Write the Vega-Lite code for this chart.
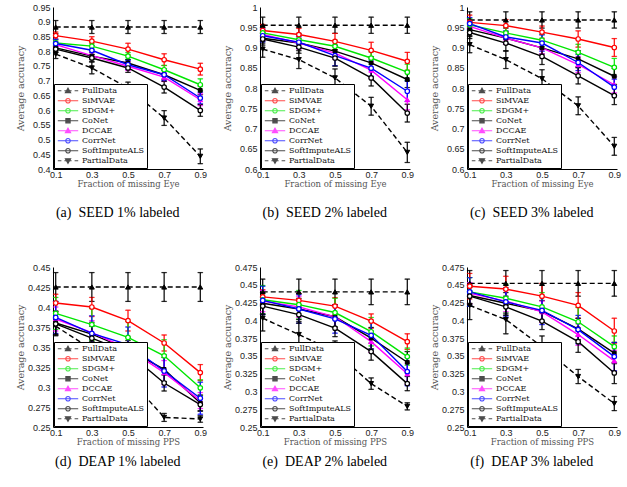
{
"$schema":"https://vega.github.io/schema/vega-lite/v6.json",
"padding":{"left":15,"top":3,"right":2,"bottom":2},
"datasets":{"d":[
{"p":"a","m":"FullData","x":0.1,"y":0.882,"e":0.022},{"p":"a","m":"FullData","x":0.3,"y":0.882,"e":0.022},{"p":"a","m":"FullData","x":0.5,"y":0.882,"e":0.022},{"p":"a","m":"FullData","x":0.7,"y":0.882,"e":0.022},{"p":"a","m":"FullData","x":0.9,"y":0.882,"e":0.022},
{"p":"a","m":"SiMVAE","x":0.1,"y":0.853,"e":0.012},{"p":"a","m":"SiMVAE","x":0.3,"y":0.834,"e":0.015},{"p":"a","m":"SiMVAE","x":0.5,"y":0.807,"e":0.02},{"p":"a","m":"SiMVAE","x":0.7,"y":0.771,"e":0.02},{"p":"a","m":"SiMVAE","x":0.9,"y":0.739,"e":0.02},
{"p":"a","m":"SDGM+","x":0.1,"y":0.828,"e":0.01},{"p":"a","m":"SDGM+","x":0.3,"y":0.817,"e":0.01},{"p":"a","m":"SDGM+","x":0.5,"y":0.783,"e":0.012},{"p":"a","m":"SDGM+","x":0.7,"y":0.737,"e":0.015},{"p":"a","m":"SDGM+","x":0.9,"y":0.686,"e":0.02},
{"p":"a","m":"CoNet","x":0.1,"y":0.811,"e":0.01},{"p":"a","m":"CoNet","x":0.3,"y":0.783,"e":0.012},{"p":"a","m":"CoNet","x":0.5,"y":0.76,"e":0.012},{"p":"a","m":"CoNet","x":0.7,"y":0.72,"e":0.015},{"p":"a","m":"CoNet","x":0.9,"y":0.667,"e":0.015},
{"p":"a","m":"DCCAE","x":0.1,"y":0.822,"e":0.012},{"p":"a","m":"DCCAE","x":0.3,"y":0.785,"e":0.012},{"p":"a","m":"DCCAE","x":0.5,"y":0.749,"e":0.015},{"p":"a","m":"DCCAE","x":0.7,"y":0.712,"e":0.015},{"p":"a","m":"DCCAE","x":0.9,"y":0.635,"e":0.02},
{"p":"a","m":"CorrNet","x":0.1,"y":0.826,"e":0.015},{"p":"a","m":"CorrNet","x":0.3,"y":0.803,"e":0.015},{"p":"a","m":"CorrNet","x":0.5,"y":0.754,"e":0.015},{"p":"a","m":"CorrNet","x":0.7,"y":0.72,"e":0.02},{"p":"a","m":"CorrNet","x":0.9,"y":0.641,"e":0.02},
{"p":"a","m":"SoftImputeALS","x":0.1,"y":0.807,"e":0.01},{"p":"a","m":"SoftImputeALS","x":0.3,"y":0.777,"e":0.012},{"p":"a","m":"SoftImputeALS","x":0.5,"y":0.743,"e":0.015},{"p":"a","m":"SoftImputeALS","x":0.7,"y":0.678,"e":0.02},{"p":"a","m":"SoftImputeALS","x":0.9,"y":0.599,"e":0.02},
{"p":"a","m":"PartialData","x":0.1,"y":0.79,"e":0.015},{"p":"a","m":"PartialData","x":0.3,"y":0.743,"e":0.02},{"p":"a","m":"PartialData","x":0.5,"y":0.675,"e":0.02},{"p":"a","m":"PartialData","x":0.7,"y":0.573,"e":0.025},{"p":"a","m":"PartialData","x":0.9,"y":0.443,"e":0.025},
{"p":"b","m":"FullData","x":0.1,"y":0.955,"e":0.02},{"p":"b","m":"FullData","x":0.3,"y":0.955,"e":0.02},{"p":"b","m":"FullData","x":0.5,"y":0.955,"e":0.02},{"p":"b","m":"FullData","x":0.7,"y":0.955,"e":0.02},{"p":"b","m":"FullData","x":0.9,"y":0.955,"e":0.02},
{"p":"b","m":"SiMVAE","x":0.1,"y":0.942,"e":0.015},{"p":"b","m":"SiMVAE","x":0.3,"y":0.932,"e":0.015},{"p":"b","m":"SiMVAE","x":0.5,"y":0.915,"e":0.02},{"p":"b","m":"SiMVAE","x":0.7,"y":0.893,"e":0.02},{"p":"b","m":"SiMVAE","x":0.9,"y":0.866,"e":0.022},
{"p":"b","m":"SDGM+","x":0.1,"y":0.936,"e":0.012},{"p":"b","m":"SDGM+","x":0.3,"y":0.919,"e":0.012},{"p":"b","m":"SDGM+","x":0.5,"y":0.903,"e":0.015},{"p":"b","m":"SDGM+","x":0.7,"y":0.874,"e":0.015},{"p":"b","m":"SDGM+","x":0.9,"y":0.839,"e":0.02},
{"p":"b","m":"CoNet","x":0.1,"y":0.923,"e":0.012},{"p":"b","m":"CoNet","x":0.3,"y":0.911,"e":0.012},{"p":"b","m":"CoNet","x":0.5,"y":0.891,"e":0.015},{"p":"b","m":"CoNet","x":0.7,"y":0.862,"e":0.015},{"p":"b","m":"CoNet","x":0.9,"y":0.821,"e":0.02},
{"p":"b","m":"DCCAE","x":0.1,"y":0.932,"e":0.015},{"p":"b","m":"DCCAE","x":0.3,"y":0.911,"e":0.015},{"p":"b","m":"DCCAE","x":0.5,"y":0.886,"e":0.015},{"p":"b","m":"DCCAE","x":0.7,"y":0.844,"e":0.02},{"p":"b","m":"DCCAE","x":0.9,"y":0.771,"e":0.025},
{"p":"b","m":"CorrNet","x":0.1,"y":0.929,"e":0.015},{"p":"b","m":"CorrNet","x":0.3,"y":0.913,"e":0.015},{"p":"b","m":"CorrNet","x":0.5,"y":0.88,"e":0.025},{"p":"b","m":"CorrNet","x":0.7,"y":0.849,"e":0.02},{"p":"b","m":"CorrNet","x":0.9,"y":0.792,"e":0.025},
{"p":"b","m":"SoftImputeALS","x":0.1,"y":0.921,"e":0.015},{"p":"b","m":"SoftImputeALS","x":0.3,"y":0.901,"e":0.015},{"p":"b","m":"SoftImputeALS","x":0.5,"y":0.874,"e":0.02},{"p":"b","m":"SoftImputeALS","x":0.7,"y":0.825,"e":0.02},{"p":"b","m":"SoftImputeALS","x":0.9,"y":0.738,"e":0.022},
{"p":"b","m":"PartialData","x":0.1,"y":0.896,"e":0.02},{"p":"b","m":"PartialData","x":0.3,"y":0.87,"e":0.022},{"p":"b","m":"PartialData","x":0.5,"y":0.825,"e":0.022},{"p":"b","m":"PartialData","x":0.7,"y":0.755,"e":0.022},{"p":"b","m":"PartialData","x":0.9,"y":0.641,"e":0.025},
{"p":"c","m":"FullData","x":0.1,"y":0.968,"e":0.02},{"p":"c","m":"FullData","x":0.3,"y":0.968,"e":0.02},{"p":"c","m":"FullData","x":0.5,"y":0.968,"e":0.02},{"p":"c","m":"FullData","x":0.7,"y":0.968,"e":0.02},{"p":"c","m":"FullData","x":0.9,"y":0.968,"e":0.02},
{"p":"c","m":"SiMVAE","x":0.1,"y":0.962,"e":0.018},{"p":"c","m":"SiMVAE","x":0.3,"y":0.954,"e":0.015},{"p":"c","m":"SiMVAE","x":0.5,"y":0.938,"e":0.015},{"p":"c","m":"SiMVAE","x":0.7,"y":0.921,"e":0.02},{"p":"c","m":"SiMVAE","x":0.9,"y":0.9,"e":0.022},
{"p":"c","m":"SDGM+","x":0.1,"y":0.956,"e":0.015},{"p":"c","m":"SDGM+","x":0.3,"y":0.936,"e":0.015},{"p":"c","m":"SDGM+","x":0.5,"y":0.918,"e":0.015},{"p":"c","m":"SDGM+","x":0.7,"y":0.888,"e":0.02},{"p":"c","m":"SDGM+","x":0.9,"y":0.851,"e":0.022},
{"p":"c","m":"CoNet","x":0.1,"y":0.944,"e":0.015},{"p":"c","m":"CoNet","x":0.3,"y":0.923,"e":0.015},{"p":"c","m":"CoNet","x":0.5,"y":0.899,"e":0.015},{"p":"c","m":"CoNet","x":0.7,"y":0.872,"e":0.02},{"p":"c","m":"CoNet","x":0.9,"y":0.829,"e":0.02},
{"p":"c","m":"DCCAE","x":0.1,"y":0.952,"e":0.015},{"p":"c","m":"DCCAE","x":0.3,"y":0.923,"e":0.015},{"p":"c","m":"DCCAE","x":0.5,"y":0.899,"e":0.015},{"p":"c","m":"DCCAE","x":0.7,"y":0.858,"e":0.02},{"p":"c","m":"DCCAE","x":0.9,"y":0.808,"e":0.02},
{"p":"c","m":"CorrNet","x":0.1,"y":0.959,"e":0.015},{"p":"c","m":"CorrNet","x":0.3,"y":0.926,"e":0.015},{"p":"c","m":"CorrNet","x":0.5,"y":0.911,"e":0.02},{"p":"c","m":"CorrNet","x":0.7,"y":0.863,"e":0.02},{"p":"c","m":"CorrNet","x":0.9,"y":0.802,"e":0.02},
{"p":"c","m":"SoftImputeALS","x":0.1,"y":0.937,"e":0.015},{"p":"c","m":"SoftImputeALS","x":0.3,"y":0.911,"e":0.02},{"p":"c","m":"SoftImputeALS","x":0.5,"y":0.878,"e":0.02},{"p":"c","m":"SoftImputeALS","x":0.7,"y":0.83,"e":0.02},{"p":"c","m":"SoftImputeALS","x":0.9,"y":0.781,"e":0.022},
{"p":"c","m":"PartialData","x":0.1,"y":0.907,"e":0.02},{"p":"c","m":"PartialData","x":0.3,"y":0.87,"e":0.022},{"p":"c","m":"PartialData","x":0.5,"y":0.823,"e":0.022},{"p":"c","m":"PartialData","x":0.7,"y":0.756,"e":0.022},{"p":"c","m":"PartialData","x":0.9,"y":0.656,"e":0.022},
{"p":"d","m":"FullData","x":0.1,"y":0.425,"e":0.018},{"p":"d","m":"FullData","x":0.3,"y":0.425,"e":0.018},{"p":"d","m":"FullData","x":0.5,"y":0.425,"e":0.018},{"p":"d","m":"FullData","x":0.7,"y":0.425,"e":0.018},{"p":"d","m":"FullData","x":0.9,"y":0.425,"e":0.018},
{"p":"d","m":"SiMVAE","x":0.1,"y":0.405,"e":0.011},{"p":"d","m":"SiMVAE","x":0.3,"y":0.4,"e":0.012},{"p":"d","m":"SiMVAE","x":0.5,"y":0.383,"e":0.013},{"p":"d","m":"SiMVAE","x":0.7,"y":0.355,"e":0.01},{"p":"d","m":"SiMVAE","x":0.9,"y":0.318,"e":0.01},
{"p":"d","m":"SDGM+","x":0.1,"y":0.392,"e":0.02},{"p":"d","m":"SDGM+","x":0.3,"y":0.378,"e":0.02},{"p":"d","m":"SDGM+","x":0.5,"y":0.362,"e":0.02},{"p":"d","m":"SDGM+","x":0.7,"y":0.339,"e":0.02},{"p":"d","m":"SDGM+","x":0.9,"y":0.299,"e":0.01},
{"p":"d","m":"CoNet","x":0.1,"y":0.38,"e":0.015},{"p":"d","m":"CoNet","x":0.3,"y":0.366,"e":0.015},{"p":"d","m":"CoNet","x":0.5,"y":0.347,"e":0.015},{"p":"d","m":"CoNet","x":0.7,"y":0.322,"e":0.015},{"p":"d","m":"CoNet","x":0.9,"y":0.28,"e":0.01},
{"p":"d","m":"DCCAE","x":0.1,"y":0.385,"e":0.015},{"p":"d","m":"DCCAE","x":0.3,"y":0.368,"e":0.015},{"p":"d","m":"DCCAE","x":0.5,"y":0.348,"e":0.015},{"p":"d","m":"DCCAE","x":0.7,"y":0.318,"e":0.015},{"p":"d","m":"DCCAE","x":0.9,"y":0.283,"e":0.01},
{"p":"d","m":"CorrNet","x":0.1,"y":0.387,"e":0.02},{"p":"d","m":"CorrNet","x":0.3,"y":0.367,"e":0.022},{"p":"d","m":"CorrNet","x":0.5,"y":0.353,"e":0.022},{"p":"d","m":"CorrNet","x":0.7,"y":0.32,"e":0.02},{"p":"d","m":"CorrNet","x":0.9,"y":0.286,"e":0.02},
{"p":"d","m":"SoftImputeALS","x":0.1,"y":0.379,"e":0.015},{"p":"d","m":"SoftImputeALS","x":0.3,"y":0.361,"e":0.015},{"p":"d","m":"SoftImputeALS","x":0.5,"y":0.343,"e":0.015},{"p":"d","m":"SoftImputeALS","x":0.7,"y":0.305,"e":0.01},{"p":"d","m":"SoftImputeALS","x":0.9,"y":0.278,"e":0.008},
{"p":"d","m":"PartialData","x":0.1,"y":0.376,"e":0.01},{"p":"d","m":"PartialData","x":0.3,"y":0.347,"e":0.01},{"p":"d","m":"PartialData","x":0.5,"y":0.312,"e":0.01},{"p":"d","m":"PartialData","x":0.7,"y":0.262,"e":0.005},{"p":"d","m":"PartialData","x":0.9,"y":0.26,"e":0.004},
{"p":"e","m":"FullData","x":0.1,"y":0.44,"e":0.018},{"p":"e","m":"FullData","x":0.3,"y":0.44,"e":0.018},{"p":"e","m":"FullData","x":0.5,"y":0.44,"e":0.018},{"p":"e","m":"FullData","x":0.7,"y":0.44,"e":0.018},{"p":"e","m":"FullData","x":0.9,"y":0.44,"e":0.018},
{"p":"e","m":"SiMVAE","x":0.1,"y":0.433,"e":0.01},{"p":"e","m":"SiMVAE","x":0.3,"y":0.428,"e":0.01},{"p":"e","m":"SiMVAE","x":0.5,"y":0.42,"e":0.012},{"p":"e","m":"SiMVAE","x":0.7,"y":0.399,"e":0.01},{"p":"e","m":"SiMVAE","x":0.9,"y":0.37,"e":0.011},
{"p":"e","m":"SDGM+","x":0.1,"y":0.429,"e":0.02},{"p":"e","m":"SDGM+","x":0.3,"y":0.422,"e":0.02},{"p":"e","m":"SDGM+","x":0.5,"y":0.411,"e":0.02},{"p":"e","m":"SDGM+","x":0.7,"y":0.384,"e":0.02},{"p":"e","m":"SDGM+","x":0.9,"y":0.349,"e":0.012},
{"p":"e","m":"CoNet","x":0.1,"y":0.424,"e":0.015},{"p":"e","m":"CoNet","x":0.3,"y":0.416,"e":0.015},{"p":"e","m":"CoNet","x":0.5,"y":0.405,"e":0.015},{"p":"e","m":"CoNet","x":0.7,"y":0.375,"e":0.015},{"p":"e","m":"CoNet","x":0.9,"y":0.341,"e":0.015},
{"p":"e","m":"DCCAE","x":0.1,"y":0.427,"e":0.015},{"p":"e","m":"DCCAE","x":0.3,"y":0.419,"e":0.015},{"p":"e","m":"DCCAE","x":0.5,"y":0.405,"e":0.015},{"p":"e","m":"DCCAE","x":0.7,"y":0.37,"e":0.015},{"p":"e","m":"DCCAE","x":0.9,"y":0.325,"e":0.015},
{"p":"e","m":"CorrNet","x":0.1,"y":0.428,"e":0.02},{"p":"e","m":"CorrNet","x":0.3,"y":0.416,"e":0.02},{"p":"e","m":"CorrNet","x":0.5,"y":0.402,"e":0.02},{"p":"e","m":"CorrNet","x":0.7,"y":0.379,"e":0.02},{"p":"e","m":"CorrNet","x":0.9,"y":0.328,"e":0.02},
{"p":"e","m":"SoftImputeALS","x":0.1,"y":0.42,"e":0.012},{"p":"e","m":"SoftImputeALS","x":0.3,"y":0.408,"e":0.012},{"p":"e","m":"SoftImputeALS","x":0.5,"y":0.389,"e":0.012},{"p":"e","m":"SoftImputeALS","x":0.7,"y":0.356,"e":0.012},{"p":"e","m":"SoftImputeALS","x":0.9,"y":0.311,"e":0.01},
{"p":"e","m":"PartialData","x":0.1,"y":0.403,"e":0.018},{"p":"e","m":"PartialData","x":0.3,"y":0.38,"e":0.018},{"p":"e","m":"PartialData","x":0.5,"y":0.356,"e":0.015},{"p":"e","m":"PartialData","x":0.7,"y":0.311,"e":0.008},{"p":"e","m":"PartialData","x":0.9,"y":0.279,"e":0.005},
{"p":"f","m":"FullData","x":0.1,"y":0.452,"e":0.018},{"p":"f","m":"FullData","x":0.3,"y":0.452,"e":0.018},{"p":"f","m":"FullData","x":0.5,"y":0.452,"e":0.018},{"p":"f","m":"FullData","x":0.7,"y":0.452,"e":0.018},{"p":"f","m":"FullData","x":0.9,"y":0.452,"e":0.018},
{"p":"f","m":"SiMVAE","x":0.1,"y":0.448,"e":0.018},{"p":"f","m":"SiMVAE","x":0.3,"y":0.444,"e":0.018},{"p":"f","m":"SiMVAE","x":0.5,"y":0.434,"e":0.018},{"p":"f","m":"SiMVAE","x":0.7,"y":0.421,"e":0.018},{"p":"f","m":"SiMVAE","x":0.9,"y":0.385,"e":0.018},
{"p":"f","m":"SDGM+","x":0.1,"y":0.44,"e":0.02},{"p":"f","m":"SDGM+","x":0.3,"y":0.431,"e":0.02},{"p":"f","m":"SDGM+","x":0.5,"y":0.419,"e":0.02},{"p":"f","m":"SDGM+","x":0.7,"y":0.398,"e":0.02},{"p":"f","m":"SDGM+","x":0.9,"y":0.363,"e":0.015},
{"p":"f","m":"CoNet","x":0.1,"y":0.435,"e":0.015},{"p":"f","m":"CoNet","x":0.3,"y":0.424,"e":0.015},{"p":"f","m":"CoNet","x":0.5,"y":0.413,"e":0.015},{"p":"f","m":"CoNet","x":0.7,"y":0.388,"e":0.015},{"p":"f","m":"CoNet","x":0.9,"y":0.354,"e":0.015},
{"p":"f","m":"DCCAE","x":0.1,"y":0.438,"e":0.015},{"p":"f","m":"DCCAE","x":0.3,"y":0.427,"e":0.015},{"p":"f","m":"DCCAE","x":0.5,"y":0.412,"e":0.015},{"p":"f","m":"DCCAE","x":0.7,"y":0.38,"e":0.015},{"p":"f","m":"DCCAE","x":0.9,"y":0.343,"e":0.015},
{"p":"f","m":"CorrNet","x":0.1,"y":0.44,"e":0.02},{"p":"f","m":"CorrNet","x":0.3,"y":0.426,"e":0.02},{"p":"f","m":"CorrNet","x":0.5,"y":0.414,"e":0.02},{"p":"f","m":"CorrNet","x":0.7,"y":0.387,"e":0.02},{"p":"f","m":"CorrNet","x":0.9,"y":0.349,"e":0.02},
{"p":"f","m":"SoftImputeALS","x":0.1,"y":0.434,"e":0.012},{"p":"f","m":"SoftImputeALS","x":0.3,"y":0.419,"e":0.012},{"p":"f","m":"SoftImputeALS","x":0.5,"y":0.399,"e":0.012},{"p":"f","m":"SoftImputeALS","x":0.7,"y":0.37,"e":0.015},{"p":"f","m":"SoftImputeALS","x":0.9,"y":0.326,"e":0.015},
{"p":"f","m":"PartialData","x":0.1,"y":0.421,"e":0.02},{"p":"f","m":"PartialData","x":0.3,"y":0.401,"e":0.02},{"p":"f","m":"PartialData","x":0.5,"y":0.363,"e":0.015},{"p":"f","m":"PartialData","x":0.7,"y":0.321,"e":0.01},{"p":"f","m":"PartialData","x":0.9,"y":0.283,"e":0.01}
]},
"data":{"name":"d"},
"config":{
 "view":{"stroke":null},
 "axis":{"grid":false,"ticks":false,"labelPadding":1.5,"labelFont":"Liberation Sans","labelFontSize":9,"labelColor":"#222","titleFont":"DejaVu Serif","titleFontWeight":"normal","titleColor":"#555","titleFontSize":8.5,"domainColor":"#000","domainWidth":1,"labelFlush":false,"labelOverlap":false},
 "axisY":{"minExtent":24,"maxExtent":24,"titlePadding":4,"titleFontSize":9.5,"labelPadding":3},
 "axisX":{"titlePadding":0},
 "legend":{"labelFont":"DejaVu Serif","labelFontSize":8,"labelColor":"#111","symbolSize":36,"symbolStrokeWidth":1.2,"rowPadding":1,"padding":2.5,"strokeColor":"#000","fillColor":"#fff","symbolOffset":7.5,"labelOffset":10,"offset":1,"cornerRadius":0,"clipHeight":8.5},
 "title":{"font":"Liberation Serif","fontSize":14,"fontWeight":"normal","orient":"bottom","anchor":"middle","frame":"bounds","color":"#000","dx":7}
},
"resolve":{"scale":{"color":"independent"},"legend":{"color":"independent"}},
"spacing":43,
"vconcat":[
{"hconcat":[
{"width":150,"height":162,"title":{"text":"(a)\u2002SEED 1% labeled","offset":17.5},"transform":[{"filter":"datum.p=='a'"}],
 "encoding":{
  "x":{"field":"x","type":"quantitative","scale":{"domain":[0.085,0.915],"nice":false,"zero":false},"axis":{"values":[0.1,0.3,0.5,0.7,0.9],"title":"Fraction of missing Eye"}},
  "y":{"field":"y","type":"quantitative","scale":{"domain":[0.4,0.95],"nice":false,"zero":false},"axis":{"tickCount":11,"labelOverlap":false,"format":".3~f","title":"Average accuracy"}},
  "color":{"field":"m","type":"nominal","scale":{"domain":["FullData","SiMVAE","SDGM+","CoNet","DCCAE","CorrNet","SoftImputeALS","PartialData"],"range":["#000000","#ff0000","#00e600","#000000","#ff00ff","#0000ff","#000000","#000000"]},"legend":{"title":null,"orient":"bottom-left","encoding":{"symbols":{"shape":{"value":{"expr":"datum.value=='FullData'?'M-3.4,0H-2.2M-1.2,0H1.2M2.2,0H3.4M0,-0.85L0.85,0.65H-0.85Z':datum.value=='PartialData'?'M-3.4,0H-2.2M-1.2,0H1.2M2.2,0H3.4M0,0.85L0.85,-0.65H-0.85Z':datum.value=='DCCAE'?'M-3.4,0H3.4M0,-0.85L0.85,0.65H-0.85Z':datum.value=='CoNet'?'M-3.4,0H3.4M-0.7,-0.7H0.7V0.7H-0.7Z':'M-3.4,0H3.4M0.75,0A0.75,0.75,0,1,1,-0.75,0A0.75,0.75,0,1,1,0.75,0Z'"}},"fill":{"value":{"expr":"indexof(['FullData','PartialData','CoNet'],datum.value)>=0?'#000':datum.value=='DCCAE'?'#ff00ff':'#fff'"}}}}}}
 },
 "layer":[
  {"mark":{"type":"errorbar","ticks":{"size":5,"filled":false,"thickness":0.3,"strokeWidth":1},"thickness":1.2},"encoding":{"yError":{"field":"e"}}},
  {"transform":[{"filter":"datum.m=='FullData'||datum.m=='PartialData'"}],"mark":{"type":"line","strokeWidth":1.4,"strokeDash":[5,3]}},
  {"transform":[{"filter":"datum.m!='FullData'&&datum.m!='PartialData'"}],"mark":{"type":"line","strokeWidth":1.4}},
  {"transform":[{"filter":"datum.m=='FullData'"}],"mark":{"type":"point","shape":"triangle-up","filled":false,"fill":"#000","size":24,"strokeWidth":1,"opacity":1}},
  {"transform":[{"filter":"datum.m=='PartialData'"}],"mark":{"type":"point","shape":"triangle-down","filled":false,"fill":"#000","size":24,"strokeWidth":1,"opacity":1}},
  {"transform":[{"filter":"datum.m=='DCCAE'"}],"mark":{"type":"point","shape":"triangle-up","filled":false,"fill":"#ff00ff","size":22,"strokeWidth":1,"opacity":1}},
  {"transform":[{"filter":"datum.m=='CoNet'"}],"mark":{"type":"point","shape":"square","filled":false,"fill":"#000","size":14,"strokeWidth":1,"opacity":1}},
  {"transform":[{"filter":"indexof(['SiMVAE','SDGM+','CorrNet','SoftImputeALS'],datum.m)>=0"}],"mark":{"type":"point","shape":"circle","filled":false,"fill":"#fff","size":20,"strokeWidth":1.2,"opacity":1}}
 ]},
{"width":150,"height":162,"title":{"text":"(b)\u2002SEED 2% labeled","offset":17.5},"transform":[{"filter":"datum.p=='b'"}],
 "encoding":{
  "x":{"field":"x","type":"quantitative","scale":{"domain":[0.085,0.915],"nice":false,"zero":false},"axis":{"values":[0.1,0.3,0.5,0.7,0.9],"title":"Fraction of missing Eye"}},
  "y":{"field":"y","type":"quantitative","scale":{"domain":[0.6,1],"nice":false,"zero":false},"axis":{"values":[0.6,0.65,0.7,0.75,0.8,0.85,0.9,0.95,1],"format":".3~f","title":"Average accuracy"}},
  "color":{"field":"m","type":"nominal","scale":{"domain":["FullData","SiMVAE","SDGM+","CoNet","DCCAE","CorrNet","SoftImputeALS","PartialData"],"range":["#000000","#ff0000","#00e600","#000000","#ff00ff","#0000ff","#000000","#000000"]},"legend":{"title":null,"orient":"bottom-left","encoding":{"symbols":{"shape":{"value":{"expr":"datum.value=='FullData'?'M-3.4,0H-2.2M-1.2,0H1.2M2.2,0H3.4M0,-0.85L0.85,0.65H-0.85Z':datum.value=='PartialData'?'M-3.4,0H-2.2M-1.2,0H1.2M2.2,0H3.4M0,0.85L0.85,-0.65H-0.85Z':datum.value=='DCCAE'?'M-3.4,0H3.4M0,-0.85L0.85,0.65H-0.85Z':datum.value=='CoNet'?'M-3.4,0H3.4M-0.7,-0.7H0.7V0.7H-0.7Z':'M-3.4,0H3.4M0.75,0A0.75,0.75,0,1,1,-0.75,0A0.75,0.75,0,1,1,0.75,0Z'"}},"fill":{"value":{"expr":"indexof(['FullData','PartialData','CoNet'],datum.value)>=0?'#000':datum.value=='DCCAE'?'#ff00ff':'#fff'"}}}}}}
 },
 "layer":[
  {"mark":{"type":"errorbar","ticks":{"size":5,"filled":false,"thickness":0.3,"strokeWidth":1},"thickness":1.2},"encoding":{"yError":{"field":"e"}}},
  {"transform":[{"filter":"datum.m=='FullData'||datum.m=='PartialData'"}],"mark":{"type":"line","strokeWidth":1.4,"strokeDash":[5,3]}},
  {"transform":[{"filter":"datum.m!='FullData'&&datum.m!='PartialData'"}],"mark":{"type":"line","strokeWidth":1.4}},
  {"transform":[{"filter":"datum.m=='FullData'"}],"mark":{"type":"point","shape":"triangle-up","filled":false,"fill":"#000","size":24,"strokeWidth":1,"opacity":1}},
  {"transform":[{"filter":"datum.m=='PartialData'"}],"mark":{"type":"point","shape":"triangle-down","filled":false,"fill":"#000","size":24,"strokeWidth":1,"opacity":1}},
  {"transform":[{"filter":"datum.m=='DCCAE'"}],"mark":{"type":"point","shape":"triangle-up","filled":false,"fill":"#ff00ff","size":22,"strokeWidth":1,"opacity":1}},
  {"transform":[{"filter":"datum.m=='CoNet'"}],"mark":{"type":"point","shape":"square","filled":false,"fill":"#000","size":14,"strokeWidth":1,"opacity":1}},
  {"transform":[{"filter":"indexof(['SiMVAE','SDGM+','CorrNet','SoftImputeALS'],datum.m)>=0"}],"mark":{"type":"point","shape":"circle","filled":false,"fill":"#fff","size":20,"strokeWidth":1.2,"opacity":1}}
 ]},
{"width":150,"height":162,"title":{"text":"(c)\u2002SEED 3% labeled","offset":17.5},"transform":[{"filter":"datum.p=='c'"}],
 "encoding":{
  "x":{"field":"x","type":"quantitative","scale":{"domain":[0.085,0.915],"nice":false,"zero":false},"axis":{"values":[0.1,0.3,0.5,0.7,0.9],"title":"Fraction of missing Eye"}},
  "y":{"field":"y","type":"quantitative","scale":{"domain":[0.6,1],"nice":false,"zero":false},"axis":{"values":[0.6,0.65,0.7,0.75,0.8,0.85,0.9,0.95,1],"format":".3~f","title":"Average accuracy"}},
  "color":{"field":"m","type":"nominal","scale":{"domain":["FullData","SiMVAE","SDGM+","CoNet","DCCAE","CorrNet","SoftImputeALS","PartialData"],"range":["#000000","#ff0000","#00e600","#000000","#ff00ff","#0000ff","#000000","#000000"]},"legend":{"title":null,"orient":"bottom-left","encoding":{"symbols":{"shape":{"value":{"expr":"datum.value=='FullData'?'M-3.4,0H-2.2M-1.2,0H1.2M2.2,0H3.4M0,-0.85L0.85,0.65H-0.85Z':datum.value=='PartialData'?'M-3.4,0H-2.2M-1.2,0H1.2M2.2,0H3.4M0,0.85L0.85,-0.65H-0.85Z':datum.value=='DCCAE'?'M-3.4,0H3.4M0,-0.85L0.85,0.65H-0.85Z':datum.value=='CoNet'?'M-3.4,0H3.4M-0.7,-0.7H0.7V0.7H-0.7Z':'M-3.4,0H3.4M0.75,0A0.75,0.75,0,1,1,-0.75,0A0.75,0.75,0,1,1,0.75,0Z'"}},"fill":{"value":{"expr":"indexof(['FullData','PartialData','CoNet'],datum.value)>=0?'#000':datum.value=='DCCAE'?'#ff00ff':'#fff'"}}}}}}
 },
 "layer":[
  {"mark":{"type":"errorbar","ticks":{"size":5,"filled":false,"thickness":0.3,"strokeWidth":1},"thickness":1.2},"encoding":{"yError":{"field":"e"}}},
  {"transform":[{"filter":"datum.m=='FullData'||datum.m=='PartialData'"}],"mark":{"type":"line","strokeWidth":1.4,"strokeDash":[5,3]}},
  {"transform":[{"filter":"datum.m!='FullData'&&datum.m!='PartialData'"}],"mark":{"type":"line","strokeWidth":1.4}},
  {"transform":[{"filter":"datum.m=='FullData'"}],"mark":{"type":"point","shape":"triangle-up","filled":false,"fill":"#000","size":24,"strokeWidth":1,"opacity":1}},
  {"transform":[{"filter":"datum.m=='PartialData'"}],"mark":{"type":"point","shape":"triangle-down","filled":false,"fill":"#000","size":24,"strokeWidth":1,"opacity":1}},
  {"transform":[{"filter":"datum.m=='DCCAE'"}],"mark":{"type":"point","shape":"triangle-up","filled":false,"fill":"#ff00ff","size":22,"strokeWidth":1,"opacity":1}},
  {"transform":[{"filter":"datum.m=='CoNet'"}],"mark":{"type":"point","shape":"square","filled":false,"fill":"#000","size":14,"strokeWidth":1,"opacity":1}},
  {"transform":[{"filter":"indexof(['SiMVAE','SDGM+','CorrNet','SoftImputeALS'],datum.m)>=0"}],"mark":{"type":"point","shape":"circle","filled":false,"fill":"#fff","size":20,"strokeWidth":1.2,"opacity":1}}
 ]}
],"spacing":15,"resolve":{"scale":{"color":"independent"},"legend":{"color":"independent"}}},
{"hconcat":[
{"width":150,"height":160,"title":{"text":"(d)\u2002DEAP 1% labeled","offset":9},"transform":[{"filter":"datum.p=='d'"}],
 "encoding":{
  "x":{"field":"x","type":"quantitative","scale":{"domain":[0.085,0.915],"nice":false,"zero":false},"axis":{"values":[0.1,0.3,0.5,0.7,0.9],"title":"Fraction of missing PPS"}},
  "y":{"field":"y","type":"quantitative","scale":{"domain":[0.25,0.45],"nice":false,"zero":false},"axis":{"values":[0.25,0.275,0.3,0.325,0.35,0.375,0.4,0.425,0.45],"format":".3~f","title":"Average accuracy"}},
  "color":{"field":"m","type":"nominal","scale":{"domain":["FullData","SiMVAE","SDGM+","CoNet","DCCAE","CorrNet","SoftImputeALS","PartialData"],"range":["#000000","#ff0000","#00e600","#000000","#ff00ff","#0000ff","#000000","#000000"]},"legend":{"title":null,"orient":"bottom-left","encoding":{"symbols":{"shape":{"value":{"expr":"datum.value=='FullData'?'M-3.4,0H-2.2M-1.2,0H1.2M2.2,0H3.4M0,-0.85L0.85,0.65H-0.85Z':datum.value=='PartialData'?'M-3.4,0H-2.2M-1.2,0H1.2M2.2,0H3.4M0,0.85L0.85,-0.65H-0.85Z':datum.value=='DCCAE'?'M-3.4,0H3.4M0,-0.85L0.85,0.65H-0.85Z':datum.value=='CoNet'?'M-3.4,0H3.4M-0.7,-0.7H0.7V0.7H-0.7Z':'M-3.4,0H3.4M0.75,0A0.75,0.75,0,1,1,-0.75,0A0.75,0.75,0,1,1,0.75,0Z'"}},"fill":{"value":{"expr":"indexof(['FullData','PartialData','CoNet'],datum.value)>=0?'#000':datum.value=='DCCAE'?'#ff00ff':'#fff'"}}}}}}
 },
 "layer":[
  {"mark":{"type":"errorbar","ticks":{"size":5,"filled":false,"thickness":0.3,"strokeWidth":1},"thickness":1.2},"encoding":{"yError":{"field":"e"}}},
  {"transform":[{"filter":"datum.m=='FullData'||datum.m=='PartialData'"}],"mark":{"type":"line","strokeWidth":1.4,"strokeDash":[5,3]}},
  {"transform":[{"filter":"datum.m!='FullData'&&datum.m!='PartialData'"}],"mark":{"type":"line","strokeWidth":1.4}},
  {"transform":[{"filter":"datum.m=='FullData'"}],"mark":{"type":"point","shape":"triangle-up","filled":false,"fill":"#000","size":24,"strokeWidth":1,"opacity":1}},
  {"transform":[{"filter":"datum.m=='PartialData'"}],"mark":{"type":"point","shape":"triangle-down","filled":false,"fill":"#000","size":24,"strokeWidth":1,"opacity":1}},
  {"transform":[{"filter":"datum.m=='DCCAE'"}],"mark":{"type":"point","shape":"triangle-up","filled":false,"fill":"#ff00ff","size":22,"strokeWidth":1,"opacity":1}},
  {"transform":[{"filter":"datum.m=='CoNet'"}],"mark":{"type":"point","shape":"square","filled":false,"fill":"#000","size":14,"strokeWidth":1,"opacity":1}},
  {"transform":[{"filter":"indexof(['SiMVAE','SDGM+','CorrNet','SoftImputeALS'],datum.m)>=0"}],"mark":{"type":"point","shape":"circle","filled":false,"fill":"#fff","size":20,"strokeWidth":1.2,"opacity":1}}
 ]},
{"width":150,"height":160,"title":{"text":"(e)\u2002DEAP 2% labeled","offset":9},"transform":[{"filter":"datum.p=='e'"}],
 "encoding":{
  "x":{"field":"x","type":"quantitative","scale":{"domain":[0.085,0.915],"nice":false,"zero":false},"axis":{"values":[0.1,0.3,0.5,0.7,0.9],"title":"Fraction of missing PPS"}},
  "y":{"field":"y","type":"quantitative","scale":{"domain":[0.25,0.475],"nice":false,"zero":false},"axis":{"values":[0.25,0.275,0.3,0.325,0.35,0.375,0.4,0.425,0.45,0.475],"format":".3~f","title":"Average accuracy"}},
  "color":{"field":"m","type":"nominal","scale":{"domain":["FullData","SiMVAE","SDGM+","CoNet","DCCAE","CorrNet","SoftImputeALS","PartialData"],"range":["#000000","#ff0000","#00e600","#000000","#ff00ff","#0000ff","#000000","#000000"]},"legend":{"title":null,"orient":"bottom-left","encoding":{"symbols":{"shape":{"value":{"expr":"datum.value=='FullData'?'M-3.4,0H-2.2M-1.2,0H1.2M2.2,0H3.4M0,-0.85L0.85,0.65H-0.85Z':datum.value=='PartialData'?'M-3.4,0H-2.2M-1.2,0H1.2M2.2,0H3.4M0,0.85L0.85,-0.65H-0.85Z':datum.value=='DCCAE'?'M-3.4,0H3.4M0,-0.85L0.85,0.65H-0.85Z':datum.value=='CoNet'?'M-3.4,0H3.4M-0.7,-0.7H0.7V0.7H-0.7Z':'M-3.4,0H3.4M0.75,0A0.75,0.75,0,1,1,-0.75,0A0.75,0.75,0,1,1,0.75,0Z'"}},"fill":{"value":{"expr":"indexof(['FullData','PartialData','CoNet'],datum.value)>=0?'#000':datum.value=='DCCAE'?'#ff00ff':'#fff'"}}}}}}
 },
 "layer":[
  {"mark":{"type":"errorbar","ticks":{"size":5,"filled":false,"thickness":0.3,"strokeWidth":1},"thickness":1.2},"encoding":{"yError":{"field":"e"}}},
  {"transform":[{"filter":"datum.m=='FullData'||datum.m=='PartialData'"}],"mark":{"type":"line","strokeWidth":1.4,"strokeDash":[5,3]}},
  {"transform":[{"filter":"datum.m!='FullData'&&datum.m!='PartialData'"}],"mark":{"type":"line","strokeWidth":1.4}},
  {"transform":[{"filter":"datum.m=='FullData'"}],"mark":{"type":"point","shape":"triangle-up","filled":false,"fill":"#000","size":24,"strokeWidth":1,"opacity":1}},
  {"transform":[{"filter":"datum.m=='PartialData'"}],"mark":{"type":"point","shape":"triangle-down","filled":false,"fill":"#000","size":24,"strokeWidth":1,"opacity":1}},
  {"transform":[{"filter":"datum.m=='DCCAE'"}],"mark":{"type":"point","shape":"triangle-up","filled":false,"fill":"#ff00ff","size":22,"strokeWidth":1,"opacity":1}},
  {"transform":[{"filter":"datum.m=='CoNet'"}],"mark":{"type":"point","shape":"square","filled":false,"fill":"#000","size":14,"strokeWidth":1,"opacity":1}},
  {"transform":[{"filter":"indexof(['SiMVAE','SDGM+','CorrNet','SoftImputeALS'],datum.m)>=0"}],"mark":{"type":"point","shape":"circle","filled":false,"fill":"#fff","size":20,"strokeWidth":1.2,"opacity":1}}
 ]},
{"width":150,"height":160,"title":{"text":"(f)\u2002DEAP 3% labeled","offset":9},"transform":[{"filter":"datum.p=='f'"}],
 "encoding":{
  "x":{"field":"x","type":"quantitative","scale":{"domain":[0.085,0.915],"nice":false,"zero":false},"axis":{"values":[0.1,0.3,0.5,0.7,0.9],"title":"Fraction of missing PPS"}},
  "y":{"field":"y","type":"quantitative","scale":{"domain":[0.25,0.475],"nice":false,"zero":false},"axis":{"values":[0.25,0.275,0.3,0.325,0.35,0.375,0.4,0.425,0.45,0.475],"format":".3~f","title":"Average accuracy"}},
  "color":{"field":"m","type":"nominal","scale":{"domain":["FullData","SiMVAE","SDGM+","CoNet","DCCAE","CorrNet","SoftImputeALS","PartialData"],"range":["#000000","#ff0000","#00e600","#000000","#ff00ff","#0000ff","#000000","#000000"]},"legend":{"title":null,"orient":"bottom-left","encoding":{"symbols":{"shape":{"value":{"expr":"datum.value=='FullData'?'M-3.4,0H-2.2M-1.2,0H1.2M2.2,0H3.4M0,-0.85L0.85,0.65H-0.85Z':datum.value=='PartialData'?'M-3.4,0H-2.2M-1.2,0H1.2M2.2,0H3.4M0,0.85L0.85,-0.65H-0.85Z':datum.value=='DCCAE'?'M-3.4,0H3.4M0,-0.85L0.85,0.65H-0.85Z':datum.value=='CoNet'?'M-3.4,0H3.4M-0.7,-0.7H0.7V0.7H-0.7Z':'M-3.4,0H3.4M0.75,0A0.75,0.75,0,1,1,-0.75,0A0.75,0.75,0,1,1,0.75,0Z'"}},"fill":{"value":{"expr":"indexof(['FullData','PartialData','CoNet'],datum.value)>=0?'#000':datum.value=='DCCAE'?'#ff00ff':'#fff'"}}}}}}
 },
 "layer":[
  {"mark":{"type":"errorbar","ticks":{"size":5,"filled":false,"thickness":0.3,"strokeWidth":1},"thickness":1.2},"encoding":{"yError":{"field":"e"}}},
  {"transform":[{"filter":"datum.m=='FullData'||datum.m=='PartialData'"}],"mark":{"type":"line","strokeWidth":1.4,"strokeDash":[5,3]}},
  {"transform":[{"filter":"datum.m!='FullData'&&datum.m!='PartialData'"}],"mark":{"type":"line","strokeWidth":1.4}},
  {"transform":[{"filter":"datum.m=='FullData'"}],"mark":{"type":"point","shape":"triangle-up","filled":false,"fill":"#000","size":24,"strokeWidth":1,"opacity":1}},
  {"transform":[{"filter":"datum.m=='PartialData'"}],"mark":{"type":"point","shape":"triangle-down","filled":false,"fill":"#000","size":24,"strokeWidth":1,"opacity":1}},
  {"transform":[{"filter":"datum.m=='DCCAE'"}],"mark":{"type":"point","shape":"triangle-up","filled":false,"fill":"#ff00ff","size":22,"strokeWidth":1,"opacity":1}},
  {"transform":[{"filter":"datum.m=='CoNet'"}],"mark":{"type":"point","shape":"square","filled":false,"fill":"#000","size":14,"strokeWidth":1,"opacity":1}},
  {"transform":[{"filter":"indexof(['SiMVAE','SDGM+','CorrNet','SoftImputeALS'],datum.m)>=0"}],"mark":{"type":"point","shape":"circle","filled":false,"fill":"#fff","size":20,"strokeWidth":1.2,"opacity":1}}
 ]}
],"spacing":15,"resolve":{"scale":{"color":"independent"},"legend":{"color":"independent"}}}
]
}
